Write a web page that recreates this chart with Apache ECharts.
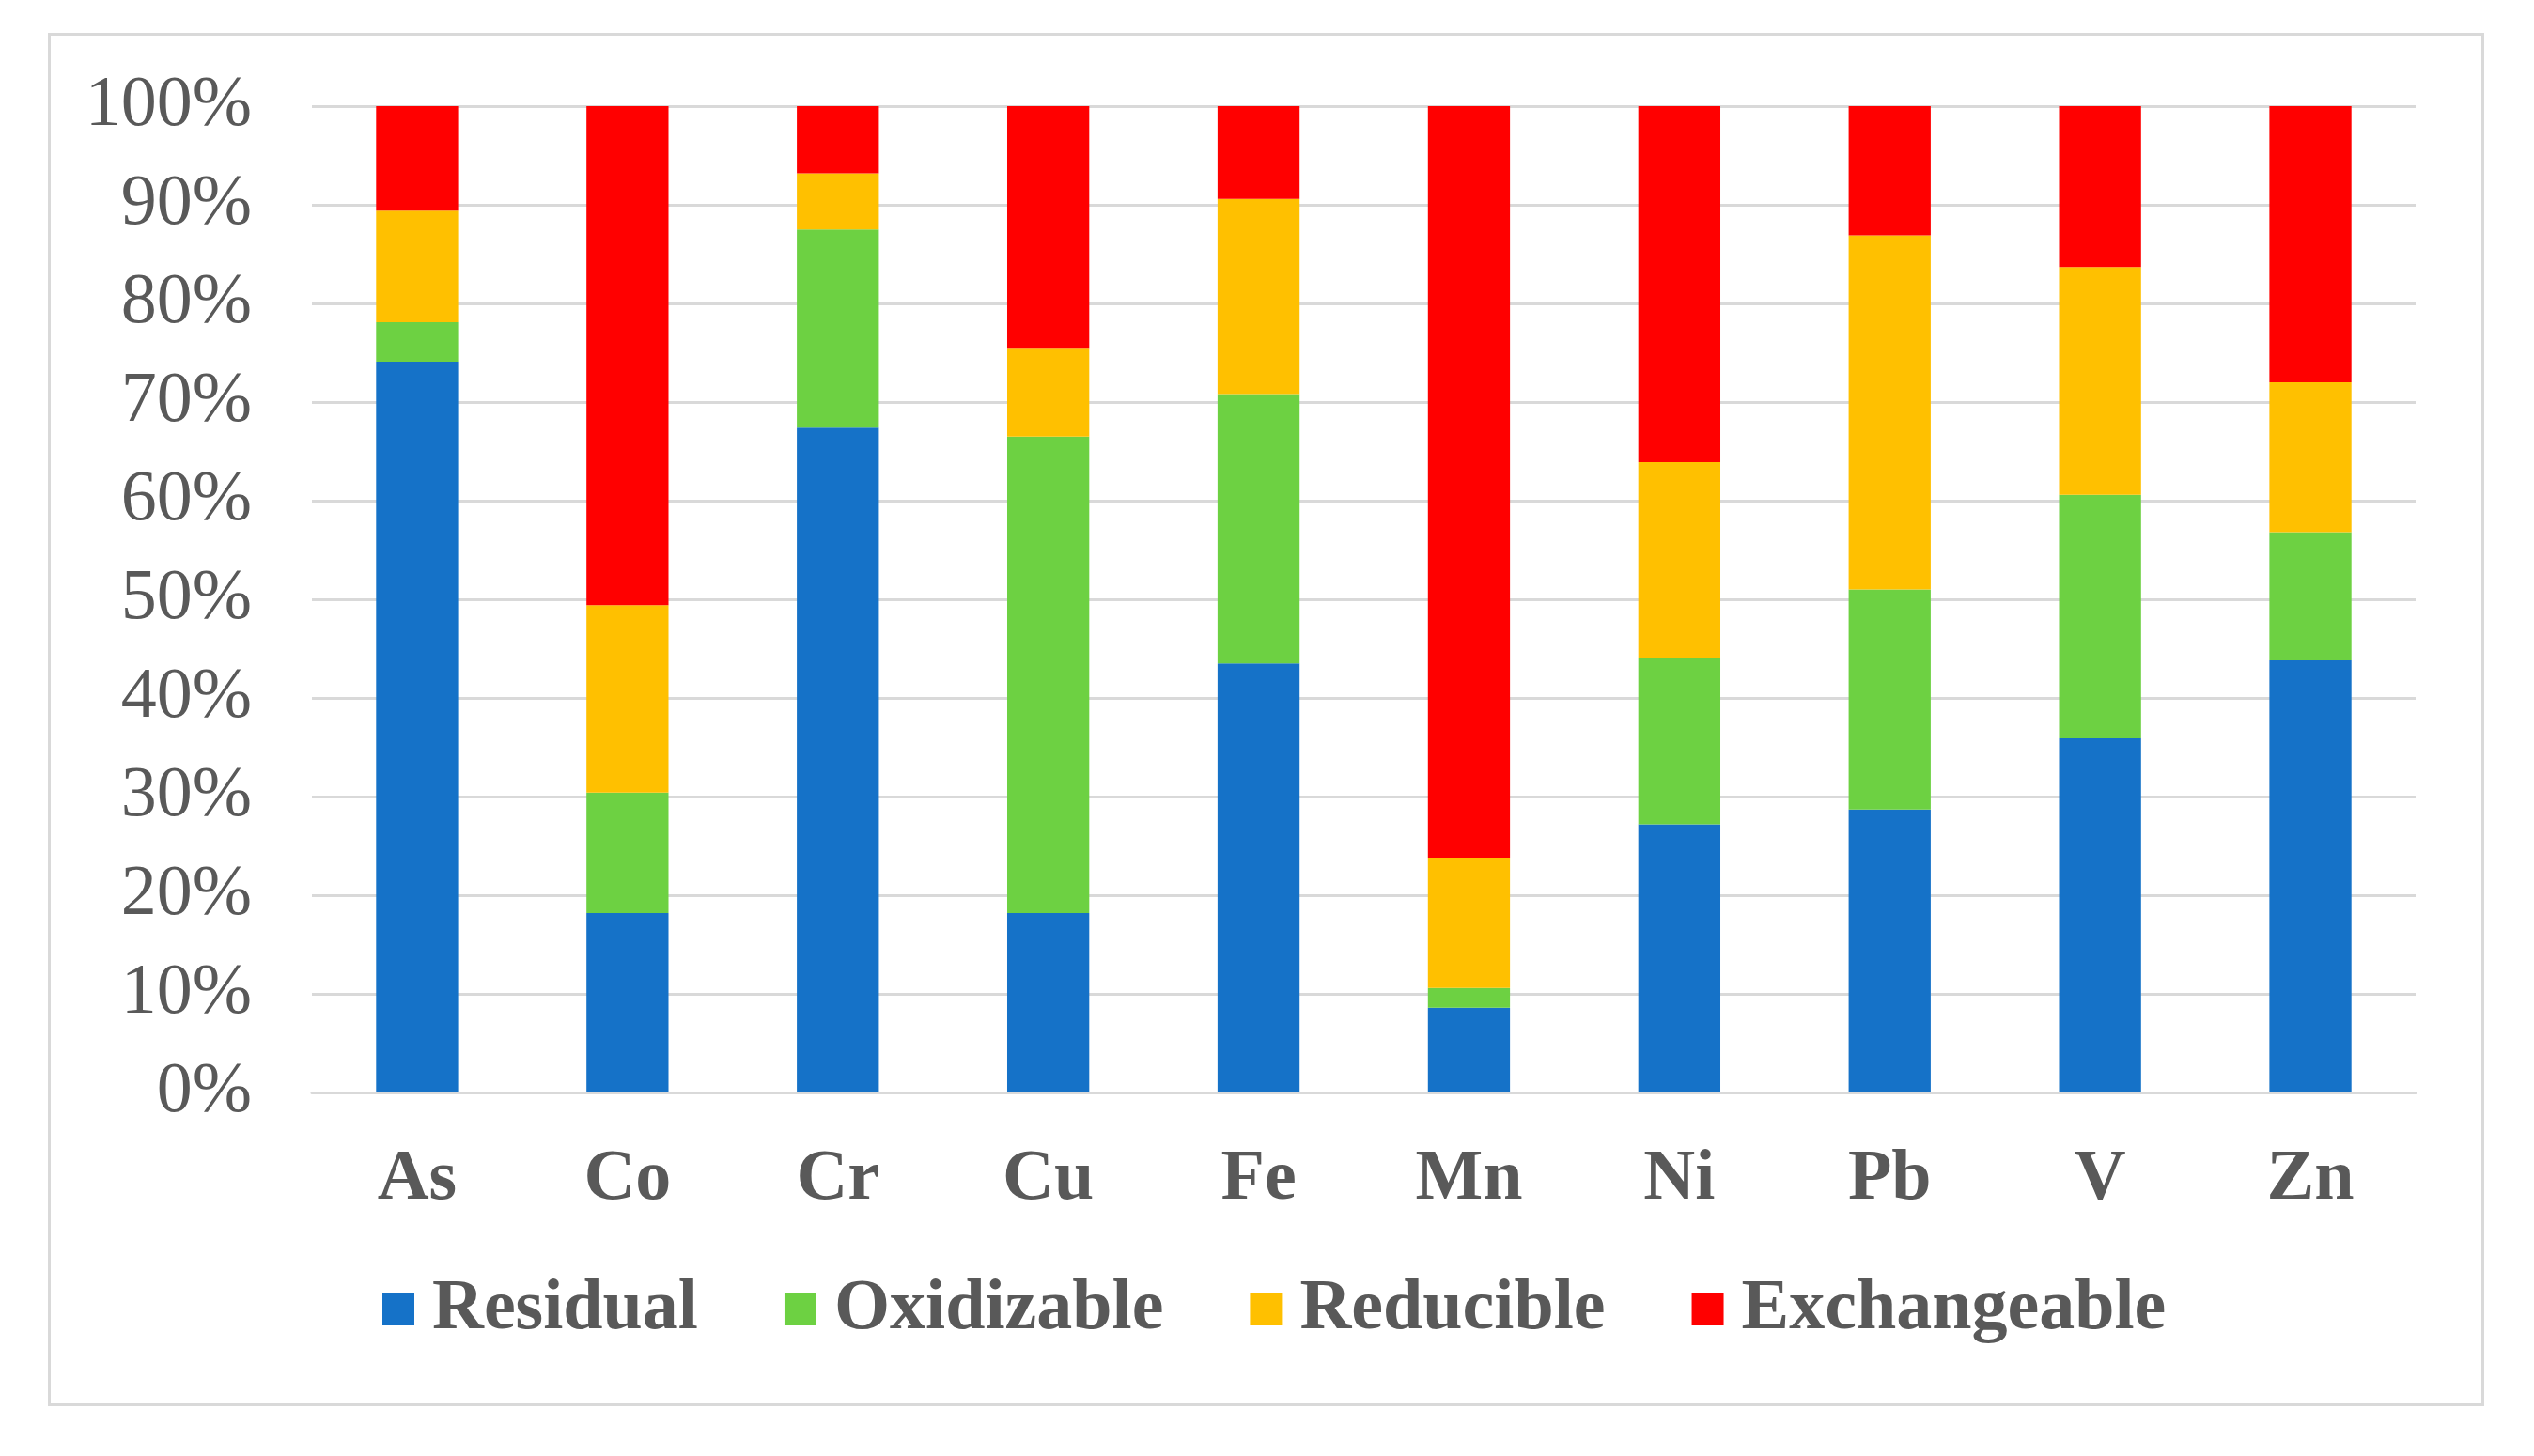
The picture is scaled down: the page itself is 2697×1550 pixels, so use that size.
<!DOCTYPE html>
<html>
<head>
<meta charset="utf-8">
<script src="https://cdn.jsdelivr.net/npm/echarts@6/dist/echarts.min.js"></script>
<style>
html,body{margin:0;padding:0;background:#fff;}
#chart{width:2697px;height:1550px;}
</style>
</head>
<body>
<div id="chart"></div>
<script>
const categories = ['As','Co','Cr','Cu','Fe','Mn','Ni','Pb','V','Zn'];
const residual     = [74.1, 18.2, 67.4, 18.2, 43.5,  8.6, 27.2, 28.7, 35.9, 43.8];
const oxidizable   = [ 4.0, 12.2, 20.1, 48.3, 27.3,  2.0, 16.9, 22.3, 24.7, 13.0];
const reducible    = [11.3, 19.0,  5.7,  9.0, 19.8, 13.2, 19.8, 35.9, 23.1, 15.2];
const exchangeable = [10.6, 50.6,  6.8, 24.5,  9.4, 76.2, 36.1, 13.1, 16.3, 28.0];
const seriesNames = ['Residual','Oxidizable','Reducible','Exchangeable'];
const colors = ['#1572C8','#6DD142','#FFC000','#FF0000'];
const yTicks = [0,10,20,30,40,50,60,70,80,90,100];

const chart = echarts.init(document.getElementById('chart'));
const font = '"Liberation Serif","Times New Roman",serif';
const dataSets = [residual, oxidizable, reducible, exchangeable];
chart.setOption({
  animation: false,
  backgroundColor: '#fff',
  graphic: [{
    type: 'rect', left: 50, top: 34,
    shape: {width: 2590, height: 1459},
    style: {fill: 'none', stroke: '#D9D9D9', lineWidth: 3}
  }],
  grid: {left: 332, right: 126, top: 113, bottom: 387, containLabel: false},
  legend: {
    left: 402, top: 1351,
    itemWidth: 34, itemHeight: 34, itemGap: 92,
    icon: 'rect',
    textStyle: {fontFamily: font, fontSize: 76, fontWeight: 'bold', color: '#595959', padding: [0,0,0,14]},
    data: seriesNames
  },
  xAxis: {
    type: 'category', data: categories,
    axisLine: {lineStyle: {color: '#D9D9D9', width: 3}},
    axisTick: {show: false},
    axisLabel: {fontFamily: font, fontSize: 76, fontWeight: 'bold', color: '#595959', margin: 55}
  },
  yAxis: {
    type: 'value', min: 0, max: 100, interval: 10,
    axisLine: {show: false}, axisTick: {show: false},
    splitLine: {lineStyle: {color: '#D9D9D9', width: 3}},
    axisLabel: {fontFamily: font, fontSize: 76, color: '#595959', margin: 64,
      formatter: v => yTicks.includes(v) ? v + '%' : ''}
  },
  series: seriesNames.map((n, i) => ({
    name: n, type: 'bar', stack: 'total', barWidth: '39%',
    itemStyle: {color: colors[i]},
    data: dataSets[i]
  }))
});
</script>
</body>
</html>
